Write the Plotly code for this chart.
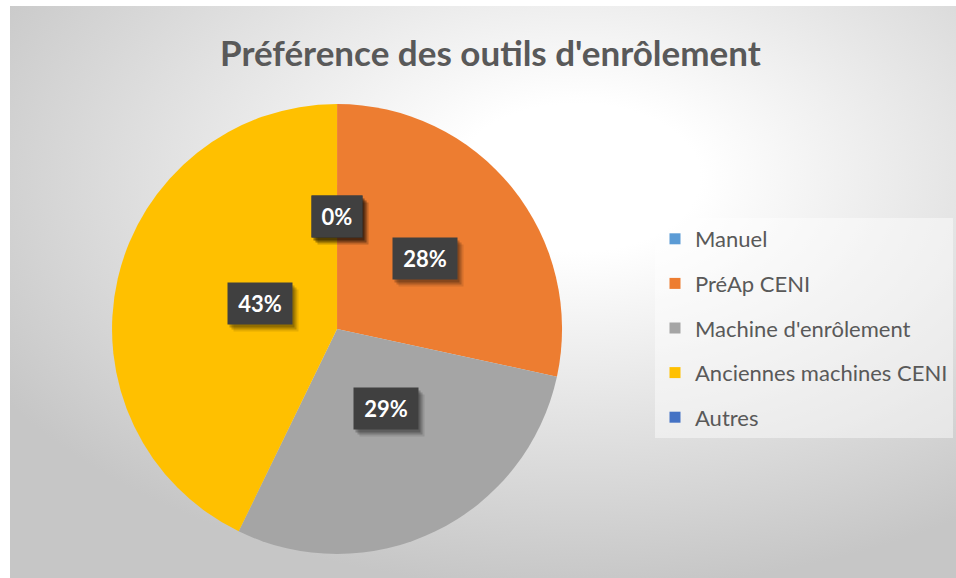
import math
import plotly.graph_objects as go

# ---- data ----
categories = ["Manuel", "PréAp CENI", "Machine d'enrôlement", "Anciennes machines CENI", "Autres"]
values = [0, 28.4, 28.8, 42.8, 0]
colors = ["#5B9BD5", "#ED7D31", "#A5A5A5", "#FFC000", "#4472C4"]
title_text = "Préférence des outils d'enrôlement"

W, H = 956, 578
dom_x = [0.1172, 0.5879]
dom_y = [0.0415, 0.8201]

fig = go.Figure()

fig.add_trace(go.Pie(
    labels=categories, values=values, sort=False, direction="clockwise", rotation=0,
    marker=dict(colors=colors, line=dict(width=0)),
    textinfo="none", hoverinfo="label+percent", showlegend=False,
    domain=dict(x=dom_x, y=dom_y),
))

# legend entries (one group per category to control spacing)
for cat, col in zip(categories, colors):
    fig.add_trace(go.Scatter(
        x=[None], y=[None], mode="markers", name=cat, legendgroup=cat,
        marker=dict(symbol="square", size=11, color=col),
    ))

# percent labels computed from the data
total = sum(values)
cx = (dom_x[0] + dom_x[1]) / 2 * W
cy = (1 - (dom_y[0] + dom_y[1]) / 2) * H
R = min((dom_x[1] - dom_x[0]) * W, (dom_y[1] - dom_y[0]) * H) / 2
annotations = []
cum = 0
for v in values:
    frac = v / total
    mid = (cum + frac / 2) * 2 * math.pi
    cum += frac
    px = cx + 0.5 * R * math.sin(mid)
    py = cy - 0.5 * R * math.cos(mid)
    txt = f"{round(frac * 100)}%"
    nd = len(txt) - 1
    w = 36 + 14 * nd
    xp, yp = px / W, 1 - py / H
    for sx, sy, a in [(6, -7, 0.10), (4, -5, 0.18), (2, -3, 0.22)]:
        annotations.append(dict(
            x=xp, y=yp, xref="paper", yref="paper", text=" ", showarrow=False,
            width=w, height=41, bgcolor=f"rgba(0,0,0,{a})", borderpad=0,
            xshift=sx, yshift=sy, font=dict(size=20),
        ))
    annotations.append(dict(
        x=xp, y=yp, xref="paper", yref="paper", text=f"<b>{txt}</b>", showarrow=False,
        width=w, height=41, bgcolor="#404040", borderpad=0,
        font=dict(family="Lato", size=22, color="white"),
    ))

annotations.append(dict(
    x=490 / W, y=1 - 52 / H, xref="paper", yref="paper", showarrow=False,
    text=f"<b>{title_text}</b>", xanchor="center", yanchor="middle",
    font=dict(family="Lato", size=35, color="#595959"),
))

bg_svg = (
    "data:image/svg+xml;utf8,"
    "<svg xmlns='http://www.w3.org/2000/svg' width='946' height='572' preserveAspectRatio='none'>"
    "<defs><radialGradient id='g' cx='0.6' cy='0.3' r='0.72'>"
    "<stop offset='0' stop-color='%23ffffff'/><stop offset='0.18' stop-color='%23ffffff'/>"
    "<stop offset='1' stop-color='%23c6c6c6'/></radialGradient></defs>"
    "<rect width='946' height='572' fill='url(%23g)'/></svg>"
)

fig.update_layout(
    width=W, height=H,
    margin=dict(l=0, r=0, t=0, b=0),
    paper_bgcolor="white", plot_bgcolor="rgba(0,0,0,0)",
    xaxis=dict(visible=False), yaxis=dict(visible=False),
    images=[dict(source=bg_svg, xref="paper", yref="paper", x=10 / W, y=1 - 6 / H,
                 sizex=1 - 10 / W, sizey=1 - 6 / H, sizing="stretch", layer="below",
                 xanchor="left", yanchor="top")],
    annotations=annotations,
    showlegend=True,
    legend=dict(
        x=655 / W, y=1 - 218 / H, xanchor="left", yanchor="top",
        bgcolor="rgba(255,255,255,0.45)", tracegroupgap=13,
        font=dict(family="Lato", size=22, color="#595959"),
        itemclick=False, itemdoubleclick=False,
    ),
)

fig.write_html("out.html", config={"displayModeBar": False},
               post_script="document.body.style.margin='0';")
